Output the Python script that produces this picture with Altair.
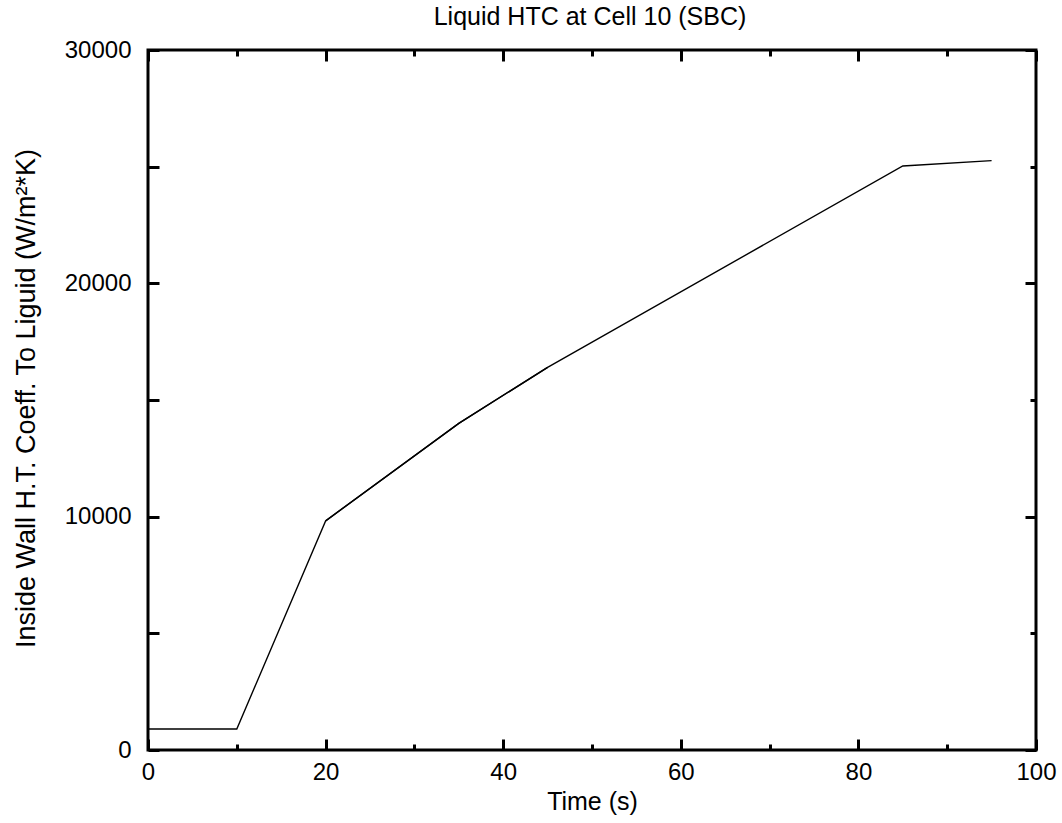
import altair as alt
import pandas as pd

TITLE = "Liquid HTC at Cell 10 (SBC)"

# Main curve
times = [0, 10, 20, 35, 45, 85, 95]
htc = [900, 900, 9820, 14000, 16400, 25030, 25260]
# Overlapping second trace (drawn darker between 20 and 45 s)
seg_times = [20, 35, 45]
seg_htc = [9820, 14000, 16400]

x_major = [0, 20, 40, 60, 80, 100]
x_minor = [10, 30, 50, 70, 90]
y_labels = [0, 10000, 20000, 30000]
y_all = [0, 5000, 10000, 15000, 20000, 25000, 30000]
y_minor = [5000, 15000, 25000]

df = pd.DataFrame({
    "t": times + seg_times,
    "h": htc + seg_htc,
    "s": ["a"] * len(times) + ["b"] * len(seg_times),
})

FONT = "Liberation Sans"
W, H = 888, 700
xs = alt.Scale(domain=[0, 100], nice=False, zero=False)
ys = alt.Scale(domain=[0, 30000], nice=False)


def tick_axis(orient, values, size):
    return alt.Axis(orient=orient, values=values, offset=-size, tickSize=size,
                    tickWidth=3, tickColor="black", labels=False, domain=False,
                    title="", grid=False)


main = alt.Chart(df).mark_line(strokeWidth=1.4, color="black").encode(
    x=alt.X("t:Q", scale=xs, axis=alt.Axis(
        orient="bottom", values=x_major, format="d", ticks=False, tickSize=0,
        domain=False, labelPadding=10, labelFontSize=24, labelFont=FONT,
        labelColor="black", labelFlush=False, labelOverlap=False,
        title="Time (s)", titleFontSize=25, titleFont=FONT,
        titleColor="black", titleFontWeight="normal", titleBaseline="alphabetic",
        titleY=59, grid=False)),
    y=alt.Y("h:Q", scale=ys, axis=alt.Axis(
        orient="left", values=y_labels, format="d", ticks=False, tickSize=0,
        domain=False, labelPadding=17, labelFontSize=24, labelFont=FONT,
        labelColor="black", labelFlush=False, labelOverlap=False,
        title="Inside Wall H.T. Coeff. To Liguid (W/m²*K)", titleFontSize=27,
        titleFont=FONT, titleColor="black", titleFontWeight="normal",
        titleAngle=270, titleBaseline="alphabetic", titleAlign="center",
        titleX=-114, titleY=348, grid=False)),
    detail="s:N",
)

ghost = alt.Chart(df).mark_point(opacity=0)

l2 = ghost.encode(
    x=alt.X("t:Q", scale=xs, axis=tick_axis("bottom", x_major, 11)),
    y=alt.Y("h:Q", scale=ys, axis=tick_axis("left", y_all, 11)),
)
l3 = ghost.encode(
    x=alt.X("t:Q", scale=xs, axis=tick_axis("bottom", x_minor, 6)),
    y=alt.Y("h:Q", scale=ys, axis=tick_axis("right", y_labels, 11)),
)
l4 = ghost.encode(
    x=alt.X("t:Q", scale=xs, axis=tick_axis("top", x_major, 11)),
    y=alt.Y("h:Q", scale=ys, axis=tick_axis("right", y_minor, 6)),
)
l5 = ghost.encode(
    x=alt.X("t:Q", scale=xs, axis=tick_axis("top", x_minor, 6)),
    y=alt.Y("h:Q", scale=ys, axis=None),
)

title_layer = alt.Chart(pd.DataFrame({"title": [TITLE]})).mark_text(
    font=FONT, fontSize=25, color="black", align="center", baseline="alphabetic"
).encode(text="title:N", x=alt.value(W / 2 - 2), y=alt.value(-25))

chart = alt.layer(main, l2, l3, l4, l5, title_layer).resolve_axis(
    x="independent", y="independent"
).properties(
    width=W, height=H,
    autosize=alt.AutoSizeParams(type="none"),
    padding={"left": 148, "top": 50, "right": 26, "bottom": 73},
    background="white",
).configure_view(stroke="black", strokeWidth=3)

chart.save("out.html", embed_options={"renderer": "svg", "actions": False})
